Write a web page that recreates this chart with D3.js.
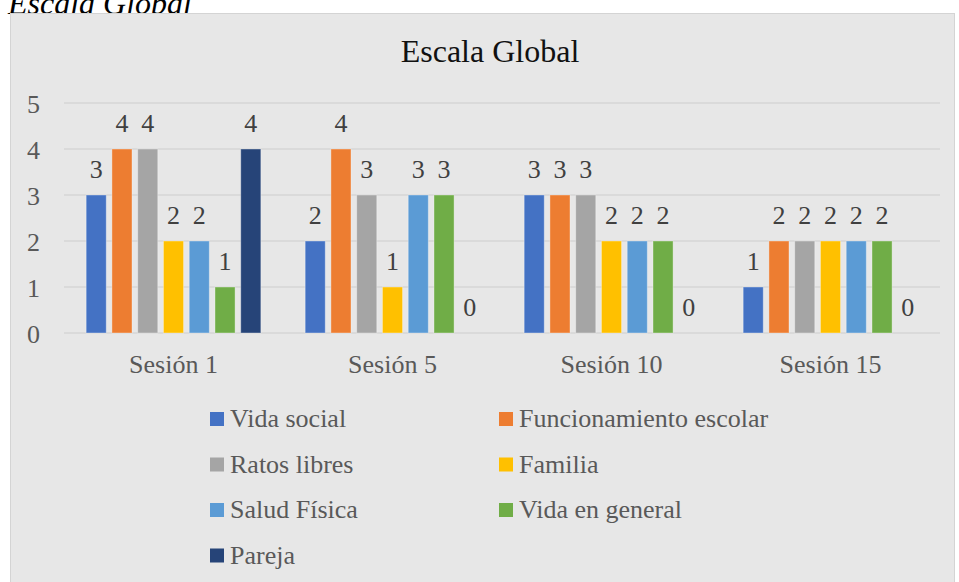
<!DOCTYPE html>
<html lang="es">
<head>
<meta charset="utf-8">
<script src="https://cdn.jsdelivr.net/npm/d3@7"></script>
<style>
  body { margin: 0; background: #fff; }
</style>
</head>
<body>
<script>
// Data
const sessions = ["Sesión 1", "Sesión 5", "Sesión 10", "Sesión 15"];
const seriesNames = ["Vida social", "Funcionamiento escolar", "Ratos libres", "Familia", "Salud Física", "Vida en general", "Pareja"];
const vidaSocial = [3, 2, 3, 1];
const funcionamiento = [4, 4, 3, 2];
const ratosLibres = [4, 3, 3, 2];
const familia = [2, 1, 2, 2];
const saludFisica = [2, 3, 2, 2];
const vidaGeneral = [1, 3, 2, 2];
const pareja = [4, 0, 0, 0];
const yTicks = [0, 1, 2, 3, 4, 5];
const colors = ["#4472C4", "#ED7D31", "#A5A5A5", "#FFC000", "#5B9BD5", "#70AD47", "#264478"];

const values = [vidaSocial, funcionamiento, ratosLibres, familia, saludFisica, vidaGeneral, pareja];

const FONT = "'Liberation Serif', 'Times New Roman', serif";
const W = 959, H = 582;
const plot = { left: 64, right: 940, top: 103, bottom: 333 };

const svg = d3.select("body").append("svg")
  .attr("width", W)
  .attr("height", H)
  .style("font-family", FONT);

// caption above the chart, cut off at the top
svg.append("text")
  .attr("x", 8)
  .attr("y", 14)
  .attr("font-size", 32)
  .attr("font-style", "italic")
  .attr("fill", "#000")
  .style("font-family", FONT)
  .text("Escala Global");

// chart area
svg.append("rect")
  .attr("x", 10.5)
  .attr("y", 13.5)
  .attr("width", 944)
  .attr("height", 580)
  .attr("fill", "#e7e7e7")
  .attr("stroke", "#d4d4d4");

svg.append("text")
  .attr("x", 490)
  .attr("y", 62)
  .attr("text-anchor", "middle")
  .attr("font-size", 32)
  .attr("fill", "#111")
  .style("font-family", FONT)
  .text("Escala Global");

const x0 = d3.scaleBand().domain(sessions).range([plot.left, plot.right]);
const x1 = d3.scaleBand().domain(seriesNames).range([0, x0.bandwidth()])
  .paddingInner(0.22).paddingOuter(0.86);
const y = d3.scaleLinear().domain([0, 5]).range([plot.bottom, plot.top]);

// gridlines
svg.append("g")
  .selectAll("line")
  .data(yTicks)
  .join("line")
  .attr("x1", plot.left)
  .attr("x2", plot.right)
  .attr("y1", d => y(d))
  .attr("y2", d => y(d))
  .attr("stroke", "#d6d6d6")
  .attr("stroke-width", 1.5);

// y axis labels
const yAxis = d3.axisLeft(y).tickValues(yTicks).tickFormat(d3.format("d")).tickSize(0).tickPadding(0);
svg.append("g")
  .attr("transform", `translate(${plot.left - 24},0)`)
  .call(yAxis)
  .call(g => g.select(".domain").remove())
  .selectAll("text")
  .attr("font-size", 26)
  .attr("fill", "#595959")
  .style("font-family", FONT)
  .attr("dy", "0.35em");

// x axis labels
const xAxis = d3.axisBottom(x0).tickSize(0).tickPadding(0);
svg.append("g")
  .attr("transform", `translate(0,${plot.bottom + 40})`)
  .call(xAxis)
  .call(g => g.select(".domain").remove())
  .selectAll("text")
  .attr("font-size", 26)
  .attr("fill", "#595959")
  .style("font-family", FONT)
  .attr("dy", 0);

// bars
const groups = svg.append("g")
  .selectAll("g")
  .data(sessions)
  .join("g")
  .attr("transform", d => `translate(${x0(d)},0)`);

const cells = groups.selectAll("g")
  .data((s, i) => seriesNames.map((n, k) => ({ name: n, value: values[k][i], color: colors[k] })))
  .join("g");

cells.append("rect")
  .attr("x", d => x1(d.name))
  .attr("width", x1.bandwidth())
  .attr("y", d => y(d.value))
  .attr("height", d => y(0) - y(d.value))
  .attr("fill", d => d.color)
  .attr("stroke", "rgba(255,255,255,0.35)")
  .attr("stroke-width", 1);

cells.append("text")
  .attr("x", d => x1(d.name) + x1.bandwidth() / 2)
  .attr("y", d => y(d.value) - 17)
  .attr("text-anchor", "middle")
  .attr("font-size", 26)
  .attr("fill", "#404040")
  .style("font-family", FONT)
  .text(d => d.value);

// legend
const legend = svg.append("g")
  .selectAll("g")
  .data(seriesNames)
  .join("g")
  .attr("transform", (d, i) => `translate(${i % 2 === 0 ? 210 : 499},${412 + Math.floor(i / 2) * 45.5})`);

legend.append("rect")
  .attr("width", 14)
  .attr("height", 14)
  .attr("fill", (d, i) => colors[i]);

legend.append("text")
  .attr("x", 20)
  .attr("y", 15)
  .attr("font-size", 26)
  .attr("fill", "#595959")
  .style("font-family", FONT)
  .text(d => d);
</script>
</body>
</html>
